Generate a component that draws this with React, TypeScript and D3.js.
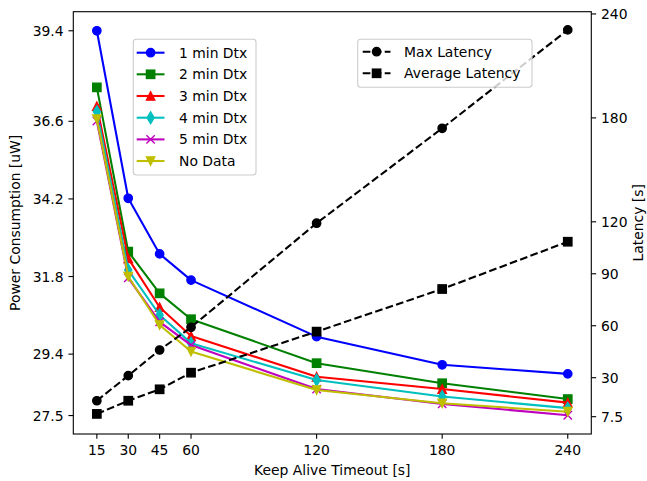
import React from "react";
import * as d3 from "d3";

const timeouts = [15, 30, 45, 60, 120, 180, 240];
const powerSeriesNames = ["1 min Dtx", "2 min Dtx", "3 min Dtx", "4 min Dtx", "5 min Dtx", "No Data"];
const power1 = [39.4, 34.22, 32.5, 31.69, 29.94, 29.07, 28.79];
const power2 = [37.65, 32.57, 31.28, 30.48, 29.12, 28.5, 28.01];
const power3 = [37.07, 32.36, 30.85, 29.96, 28.7, 28.32, 27.9];
const power4 = [36.9, 32.0, 30.61, 29.74, 28.6, 28.09, 27.73];
const power5 = [36.61, 31.76, 30.4, 29.68, 28.32, 27.86, 27.51];
const powerNoData = [36.67, 31.8, 30.3, 29.48, 28.29, 27.88, 27.62];
const maxLatency = [16.7, 31.2, 46.0, 59.1, 119.2, 174.0, 230.8];
const avgLatency = [9.1, 16.7, 23.3, 32.9, 56.6, 81.2, 108.5];
const latencyNames = ["Max Latency", "Average Latency"];
const leftTicks = [27.5, 29.4, 31.8, 34.2, 36.6, 39.4];
const rightTicks = [7.5, 30, 60, 90, 120, 180, 240];

const powerSeries = [power1, power2, power3, power4, power5, powerNoData];
const colors = ["#0000ff", "#008000", "#ff0000", "#00bfbf", "#bf00bf", "#bfbf00"];
const markers = ["o", "s", "^", "d", "x", "v"];

const L = 73.3, R = 591.3, T = 11.7, B = 434;
const FONT = "DejaVu Sans, sans-serif";
const FS = 13.9;
const MS = 8.33;

function Marker({ type, x, y, color }: { type: string; x: number; y: number; color: string }) {
  const h = MS / 2;
  const sw = 1.39;
  if (type === "o") return <circle cx={x} cy={y} r={h} fill={color} stroke={color} strokeWidth={sw} />;
  if (type === "s") return <rect x={x - h} y={y - h} width={MS} height={MS} fill={color} stroke={color} strokeWidth={sw} />;
  if (type === "^")
    return <path d={`M${x},${y - h}L${x + h},${y + h}L${x - h},${y + h}Z`} fill={color} stroke={color} strokeWidth={sw} />;
  if (type === "v")
    return <path d={`M${x},${y + h}L${x + h},${y - h}L${x - h},${y - h}Z`} fill={color} stroke={color} strokeWidth={sw} />;
  if (type === "d") {
    const dy = MS * 0.707, dx = dy * 0.6;
    return <path d={`M${x},${y - dy}L${x + dx},${y}L${x},${y + dy}L${x - dx},${y}Z`} fill={color} stroke={color} strokeWidth={sw} />;
  }
  if (type === "x")
    return <path d={`M${x - h},${y - h}L${x + h},${y + h}M${x - h},${y + h}L${x + h},${y - h}`} fill="none" stroke={color} strokeWidth={sw} />;
  return null;
}

export default function App() {
  const x = d3.scaleLinear().domain([3.75, 251.25]).range([L, R]);
  const yL = d3.scaleLinear().domain([26.93, 39.99]).range([B, T]);
  const yR = d3.scaleLinear().domain([-2.5, 241.3]).range([B, T]);

  const lineL = d3.line<number>().x((_, i) => x(timeouts[i])).y((d) => yL(d));
  const lineR = d3.line<number>().x((_, i) => x(timeouts[i])).y((d) => yR(d));

  const dash = "7.7,3.3";
  const latencyData = [maxLatency, avgLatency];
  const latencyMarkers = ["o", "s"];

  const leg1X = 133.3, leg1Y = 39.3, leg1W = 122.7, leg1H = 135.7;
  const leg1Rows = [52.7, 74.3, 96, 117.7, 139.4, 161];
  const leg2X = 357.7, leg2Y = 39.3, leg2W = 174.3, leg2H = 48;
  const leg2Rows = [51.7, 73.3];

  return (
    <svg width={647} height={481} style={{ position: "absolute", left: 0, top: 0, background: "#fff" }} fontFamily={FONT}>
      <rect x={0} y={0} width={647} height={481} fill="#fff" />
      {/* power lines */}
      {powerSeries.map((s, si) => (
        <g key={si}>
          <path d={lineL(s) || ""} fill="none" stroke={colors[si]} strokeWidth={2.08} strokeLinejoin="round" />
          {s.map((v, i) => (
            <Marker key={i} type={markers[si]} x={x(timeouts[i])} y={yL(v)} color={colors[si]} />
          ))}
        </g>
      ))}
      {/* legend 1 */}
      <rect x={leg1X} y={leg1Y} width={leg1W} height={leg1H} rx={3} fill="#fff" fillOpacity={0.8} stroke="#cccccc" strokeWidth={1.1} />
      {powerSeriesNames.map((n, i) => (
        <g key={n}>
          <line x1={136.7} x2={164.5} y1={leg1Rows[i]} y2={leg1Rows[i]} stroke={colors[i]} strokeWidth={2.08} />
          <Marker type={markers[i]} x={150.6} y={leg1Rows[i]} color={colors[i]} />
          <text x={179} y={leg1Rows[i] + 5} fontSize={FS} fill="#000">{n}</text>
        </g>
      ))}
      {/* latency lines */}
      {latencyData.map((s, si) => (
        <g key={si}>
          <path d={lineR(s) || ""} fill="none" stroke="#000" strokeWidth={2.08} strokeDasharray={dash} />
          {s.map((v, i) => (
            <Marker key={i} type={latencyMarkers[si]} x={x(timeouts[i])} y={yR(v)} color="#000" />
          ))}
        </g>
      ))}
      {/* legend 2 */}
      <rect x={leg2X} y={leg2Y} width={leg2W} height={leg2H} rx={3} fill="#fff" fillOpacity={0.8} stroke="#cccccc" strokeWidth={1.1} />
      {latencyNames.map((n, i) => (
        <g key={n}>
          <line x1={362.7} x2={390.5} y1={leg2Rows[i]} y2={leg2Rows[i]} stroke="#000" strokeWidth={2.08} strokeDasharray={dash} />
          <Marker type={latencyMarkers[i]} x={376.6} y={leg2Rows[i]} color="#000" />
          <text x={404} y={leg2Rows[i] + 5} fontSize={FS} fill="#000">{n}</text>
        </g>
      ))}
      {/* frame */}
      <rect x={L} y={T} width={R - L} height={B - T} fill="none" stroke="#000" strokeWidth={1.1} />
      {/* x axis */}
      {timeouts.map((t) => (
        <g key={t}>
          <line x1={x(t)} x2={x(t)} y1={B} y2={B + 4.86} stroke="#000" strokeWidth={1.1} />
          <text x={x(t)} y={B + 21} fontSize={FS} textAnchor="middle" fill="#000">{t}</text>
        </g>
      ))}
      <text x={(L + R) / 2} y={475} fontSize={FS} textAnchor="middle" fill="#000">Keep Alive Timeout [s]</text>
      {/* left axis */}
      {leftTicks.map((t) => (
        <g key={t}>
          <line x1={L - 4.86} x2={L} y1={yL(t)} y2={yL(t)} stroke="#000" strokeWidth={1.1} />
          <text x={L - 9.7} y={yL(t) + 5} fontSize={FS} textAnchor="end" fill="#000">{t.toFixed(1)}</text>
        </g>
      ))}
      <text transform={`translate(20,${(T + B) / 2}) rotate(-90)`} fontSize={FS} textAnchor="middle" fill="#000">Power Consumption [uW]</text>
      {/* right axis */}
      {rightTicks.map((t) => (
        <g key={t}>
          <line x1={R} x2={R + 4.86} y1={yR(t)} y2={yR(t)} stroke="#000" strokeWidth={1.1} />
          <text x={R + 9.7} y={yR(t) + 5} fontSize={FS} textAnchor="start" fill="#000">{String(t)}</text>
        </g>
      ))}
      <text transform={`translate(643,${(T + B) / 2}) rotate(-90)`} fontSize={FS} textAnchor="middle" fill="#000">Latency [s]</text>
    </svg>
  );
}
